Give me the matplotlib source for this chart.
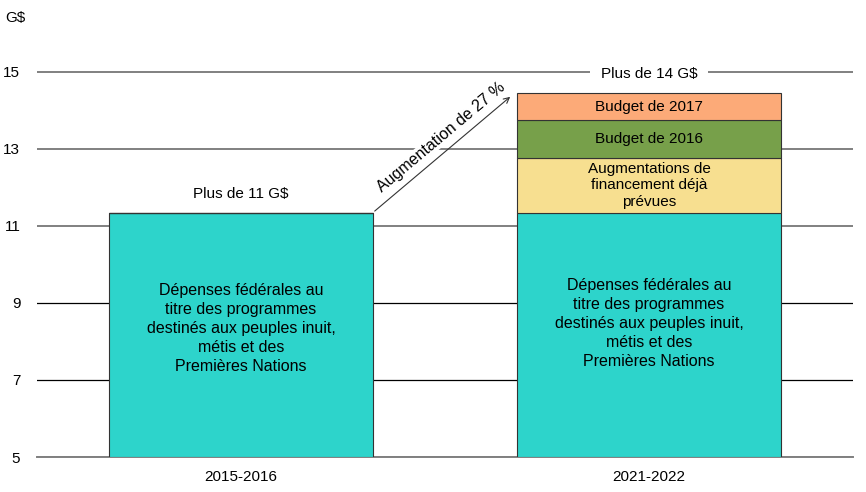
import matplotlib.pyplot as plt

plt.rcParams['font.family'] = ['Liberation Sans', 'DejaVu Sans']

# Data (G$)
years = ["2015-2016", "2021-2022"]
base = [11.34, 11.34]
planned = [0, 1.43]
budget_2016 = [0, 0.98]
budget_2017 = [0, 0.70]
totals_labels = ["Plus de 11 G$", "Plus de 14 G$"]
yticks = [5, 7, 9, 11, 13, 15]

teal = "#2DD4CB"
yellow = "#F7DF90"
green = "#77A04A"
orange = "#FCAA78"

fig = plt.figure(figsize=(8.66, 4.92), dpi=100)
ax = fig.add_axes([0.0427, 0.0711, 0.9423, 0.861])

x = range(len(years))
w = 0.645
bottom_val = 5
ec = "#333333"
ax.bar(x, [b - bottom_val for b in base], w, bottom=bottom_val, color=teal,
       edgecolor=ec, linewidth=0.8, zorder=3)
b2 = [b + p for b, p in zip(base, planned)]
ax.bar(x, planned, w, bottom=base, color=yellow, edgecolor=ec, linewidth=0.8, zorder=3)
b3 = [b + p for b, p in zip(b2, budget_2016)]
ax.bar(x, budget_2016, w, bottom=b2, color=green, edgecolor=ec, linewidth=0.8, zorder=3)
ax.bar(x, budget_2017, w, bottom=b3, color=orange, edgecolor=ec, linewidth=0.8, zorder=3)

ax.set_xlim(-0.5, 1.5)
ax.set_ylim(5, 16)
ax.set_yticks(yticks)
ax.set_xticks(list(x))
ax.set_xticklabels(years)
ax.tick_params(length=0, labelsize=11, colors="black", pad=9)
ax.tick_params(axis="y", pad=12)
ax.yaxis.grid(True, color="#808080", linewidth=1.4, zorder=0)
# the 7 and 9 lines are drawn thinner and black in the original
for t, gl in zip(yticks, ax.get_ygridlines()):
    if t in (7, 9):
        gl.set_color("black")
        gl.set_linewidth(0.9)
for s in ["top", "right", "left"]:
    ax.spines[s].set_visible(False)
ax.spines["bottom"].set_color("#808080")
ax.spines["bottom"].set_linewidth(1.4)

fig.text(0.006, 0.963, "G$", fontsize=11, va="center", ha="left")

desc = ("Dépenses fédérales au\ntitre des programmes\ndestinés aux peuples inuit,\n"
        "métis et des\nPremières Nations")
ax.text(0, 8.33, desc, ha="center", va="center", fontsize=11.5, linespacing=1.33, zorder=4)
ax.text(1, 8.46, desc, ha="center", va="center", fontsize=11.5, linespacing=1.33, zorder=4)

ax.text(1, base[1] + planned[1] / 2, "Augmentations de\nfinancement déjà\nprévues",
        ha="center", va="center", fontsize=11, linespacing=1.2, zorder=4)
ax.text(1, b2[1] + budget_2016[1] / 2, "Budget de 2016", ha="center", va="center",
        fontsize=11, zorder=4)
ax.text(1, b3[1] + budget_2017[1] / 2, "Budget de 2017", ha="center", va="center",
        fontsize=11, zorder=4)

tops = [b + p for b, p in zip(b3, budget_2017)]
ax.text(0, tops[0] + 0.5, totals_labels[0], ha="center", va="center", fontsize=11, zorder=4,
        bbox=dict(facecolor="white", edgecolor="none", pad=2))
ax.text(1, tops[1] + 0.5, totals_labels[1], ha="center", va="center", fontsize=11, zorder=4,
        bbox=dict(facecolor="white", edgecolor="none", pad=8))

ax.annotate("", xy=(0.665, 14.4), xytext=(w / 2, base[0]),
            arrowprops=dict(arrowstyle="->", color=ec, lw=0.8), zorder=4)
ax.text(0.49, 13.3, "Augmentation de 27 %", rotation=40, ha="center", va="center",
        fontsize=11.5, zorder=4, rotation_mode="anchor",
        bbox=dict(facecolor="white", edgecolor="none", pad=0.5))

fig.savefig("out.png", dpi=100)
